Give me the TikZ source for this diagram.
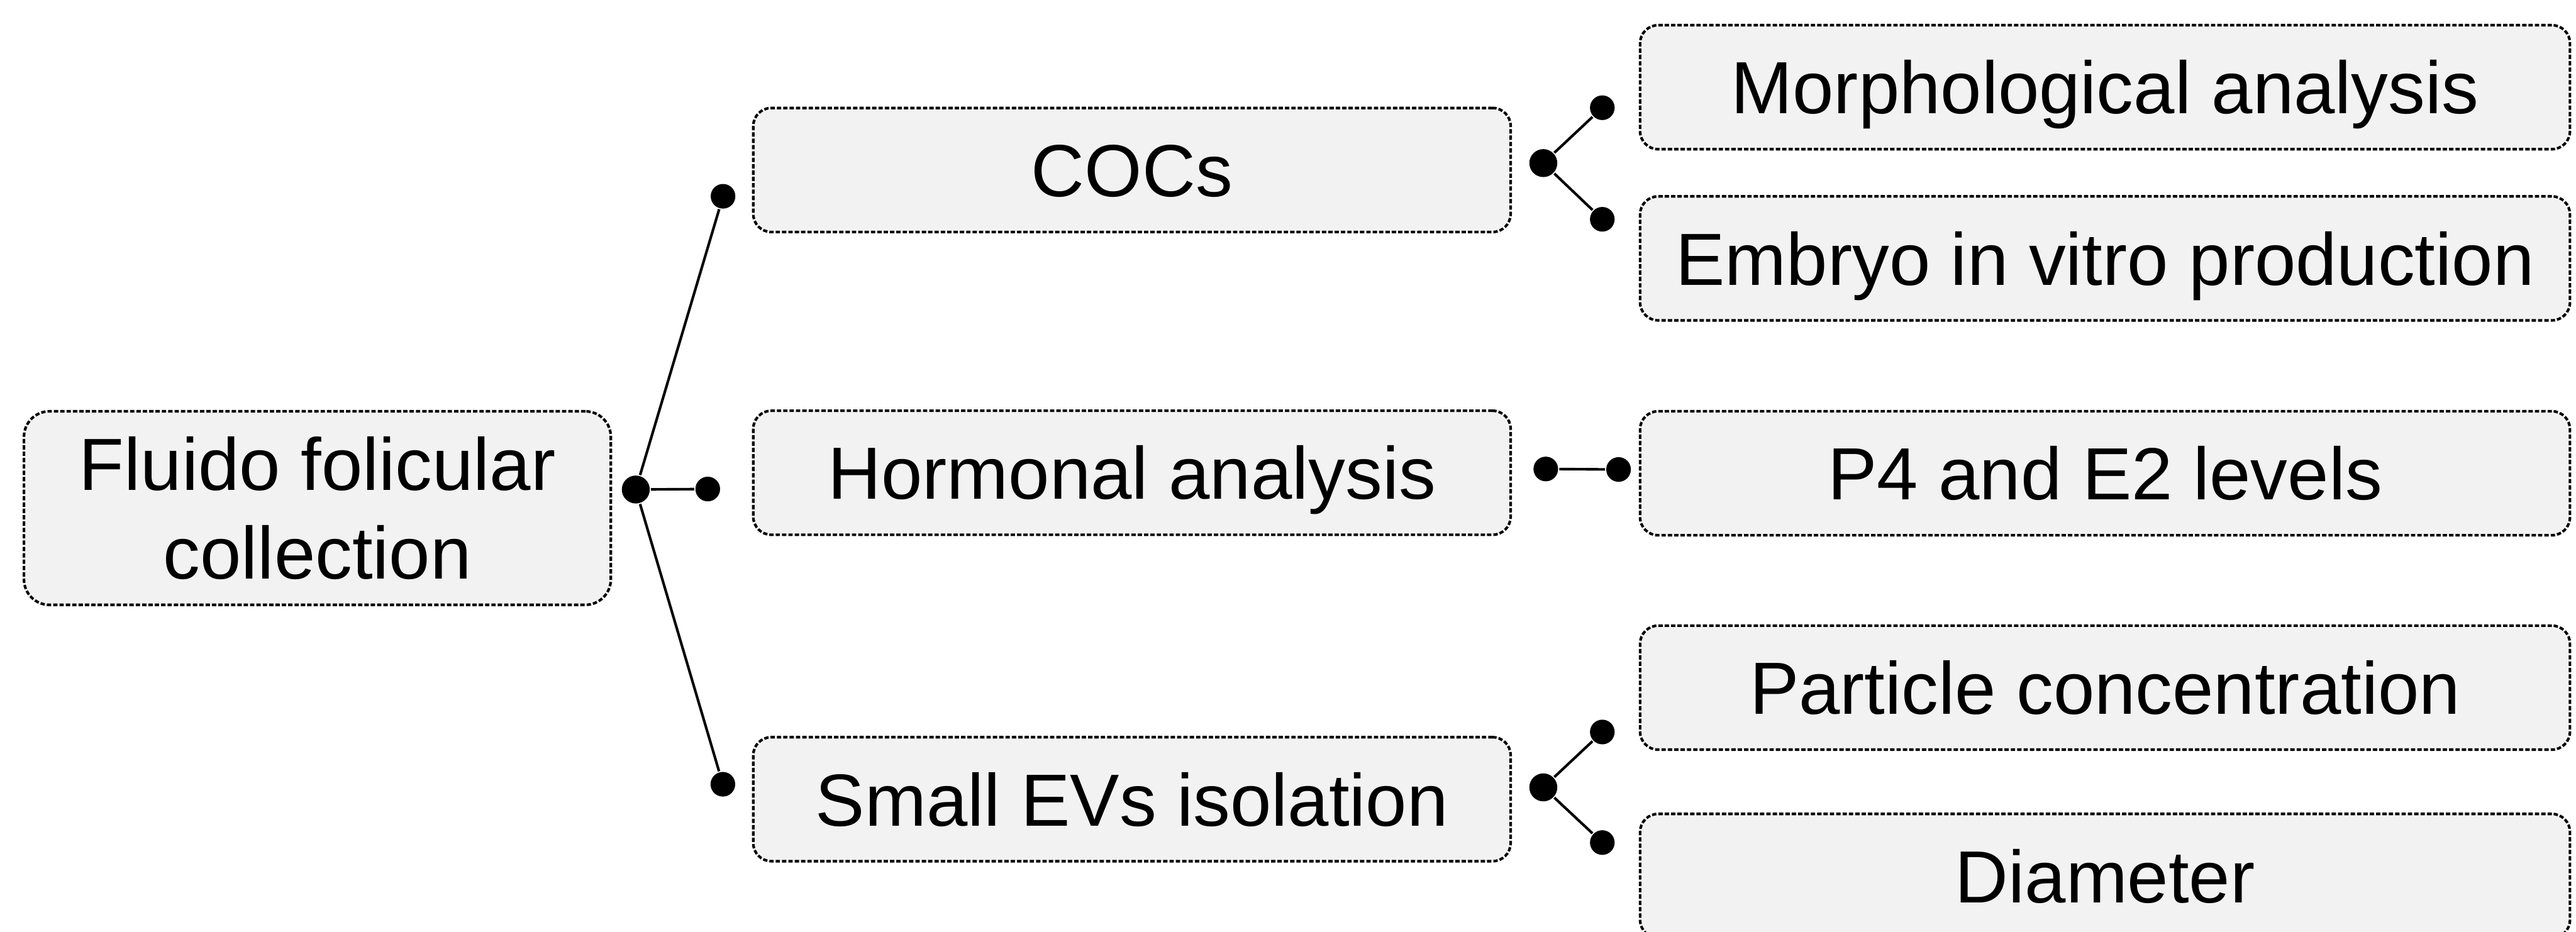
\documentclass[tikz,border=0pt]{standalone}
\usepackage{fontspec}
\setmainfont{Liberation Sans}
\usepackage{xcolor}
\definecolor{boxgray}{HTML}{F2F2F2}

\tikzset{
	base/.style={draw, dash pattern=on 0.75pt off 0.35pt, line width=0.45pt, fill=boxgray, inner sep=0pt, align=center, font=\fontsize{12.8}{15.4}\selectfont},
	box/.style={base, rounded corners=0.11cm, minimum height=0.755cm, text height=9.2pt, text depth=0pt},
	rootbox/.style={base, rounded corners=0.155cm, minimum width=3.572cm, minimum height=1.178cm},
	midbox/.style={box, minimum width=4.61cm},
	endbox/.style={box, minimum width=5.66cm},
	hub/.style={circle, fill, inner sep=0pt, minimum size=0.17cm},
	tip/.style={circle, fill, inner sep=0pt, minimum size=0.15cm},
	link/.style={line width=0.45pt},
}

\begin{document}
\begin{tikzpicture}
	\useasboundingbox (0, 0) rectangle (15.68, 5.67);

	\node[rootbox] (fluid) at (1.932, 2.577) {Fluido folicular\\collection};

	\node[midbox] (cocs) at (6.89, 4.635) {COCs};
	\node[midbox] (horm) at (6.89, 2.792) {Hormonal analysis};
	\node[midbox] (evs) at (6.89, 0.805) {Small EVs isolation};

	\node[endbox] (morph) at (12.813, 5.139) {Morphological analysis};
	\node[endbox] (ivp) at (12.813, 4.097) {Embryo in vitro production};
	\node[endbox] (levels) at (12.813, 2.789) {P4 and E2 levels};
	\node[endbox] (conc) at (12.813, 1.484) {Particle concentration};
	\node[endbox] (diam) at (12.813, 0.338) {Diameter};

	\node[hub] (h0) at (3.870, 2.690) {};
	\node[tip] (t0a) at (4.401, 4.475) {};
	\node[tip] (t0b) at (4.308, 2.693) {};
	\node[tip] (t0c) at (4.400, 0.896) {};
	\draw[link] (h0) -- (t0a);
	\draw[link] (h0) -- (t0b);
	\draw[link] (h0) -- (t0c);

	\node[hub] (h1) at (9.394, 4.677) {};
	\node[tip] (t1a) at (9.753, 5.014) {};
	\node[tip] (t1b) at (9.753, 4.335) {};
	\draw[link] (h1) -- (t1a);
	\draw[link] (h1) -- (t1b);

	\node[tip] (h2) at (9.409, 2.815) {};
	\node[tip] (t2) at (9.852, 2.812) {};
	\draw[link] (h2) -- (t2);

	\node[hub] (h3) at (9.394, 0.877) {};
	\node[tip] (t3a) at (9.753, 1.214) {};
	\node[tip] (t3b) at (9.753, 0.541) {};
	\draw[link] (h3) -- (t3a);
	\draw[link] (h3) -- (t3b);
\end{tikzpicture}
\end{document}
